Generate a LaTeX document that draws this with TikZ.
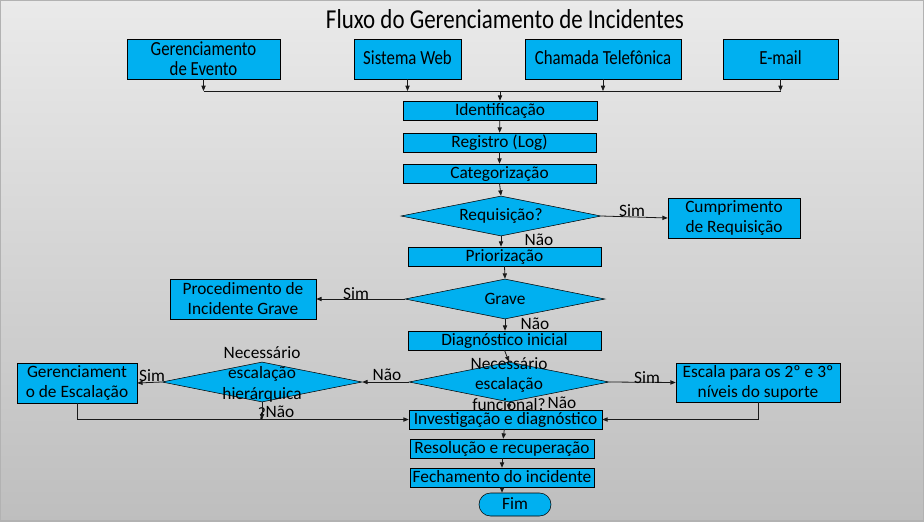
\documentclass[tikz,border=0pt]{standalone}
\usepackage{fontspec}
\setmainfont{Carlito}
\newfontfamily\estreita[FakeStretch=0.84]{Carlito}
\usepackage{xcolor}
\usetikzlibrary{arrows.meta,shapes.geometric}
\definecolor{azul}{HTML}{00B0F0}
\definecolor{fundoA}{HTML}{EAEAEA}
\definecolor{fundoB}{HTML}{BEBEBE}
\tikzset{
  caixa/.style={draw=black,fill=azul,inner sep=0pt,align=center,minimum height=14.25pt,font=\fontsize{13}{15}\selectfont},
  linhaunica/.style={caixa,text height=10pt,text depth=2pt},
  topo/.style={caixa,minimum height=30pt,font=\estreita\fontsize{15}{15}\selectfont},
  decisao/.style={diamond,draw=black,fill=azul,inner sep=0pt,minimum width=150pt,minimum height=30pt},
  texto/.style={align=center,inner sep=0pt,font=\fontsize{13}{15.3}\selectfont},
  rotulo/.style={inner sep=0pt,font=\fontsize{13}{14}\selectfont},
  seta/.style={-{Triangle[length=4pt,width=3.2pt]},draw=black!90,line width=0.6pt},
  linha/.style={draw=black!90,line width=0.6pt}
}
\begin{document}
\begin{tikzpicture}[x=0.75pt,y=-0.75pt]
  \useasboundingbox (0,0) rectangle (924,521);
  \shade[top color=fundoA,bottom color=fundoB,draw=black!30,line width=0.8pt] (0,0) rectangle (924,521);
  \node[font=\estreita\fontsize{20.5}{24}\selectfont] (titulo) at (505,19) {Fluxo do Gerenciamento de Incidentes};
  % entradas
  \node[topo,minimum width=114.75pt] (ge) at (203.5,59) {Gerenciamento\\de Evento};
  \node[topo,minimum width=80.25pt,text height=10.5pt,text depth=2.5pt] (sw) at (407.5,59) {Sistema Web};
  \node[topo,minimum width=117pt,text height=10.5pt,text depth=2.5pt] (ct) at (603,59) {Chamada Telefônica};
  \node[topo,minimum width=86.25pt,text height=10.5pt,text depth=2.5pt] (em) at (780.5,59) {E-mail};
  % fluxo principal
  \node[linhaunica,minimum width=145.5pt] (ident) at (500,110.5) {Identificação};
  \node[linhaunica,minimum width=144.75pt] (reg) at (499.5,142.5) {Registro (Log)};
  \node[linhaunica,minimum width=144.75pt] (cat) at (499.5,173.5) {Categorização};
  \node[decisao] (req) at (501,216) {};
  \node[texto] (reqt) at (req) {Requisição?};
  \node[caixa,minimum width=99pt,minimum height=30pt] (cump) at (734,218) {Cumprimento\\de Requisição};
  \node[linhaunica,minimum width=144.75pt] (prio) at (504.5,256.5) {Priorização};
  \node[decisao] (grave) at (505,299) {};
  \node[texto] (gravet) at (grave) {Grave};
  \node[caixa,minimum width=109.5pt,minimum height=30pt] (proc) at (243,299) {Procedimento de\\Incidente Grave};
  \node[linhaunica,minimum width=144.75pt] (diag) at (504.5,340.5) {Diagnóstico inicial};
  \node[decisao] (func) at (509,382) {};
  \node[texto] (funct) at (509,384) {Necessário\\escalação\\funcional?};
  \node[caixa,minimum width=123pt,minimum height=29.25pt] (esc) at (758,382.5) {Escala para os 2º e 3º\\níveis do suporte};
  \node[decisao] (hier) at (262,382) {};
  \node[texto] (hiert) at (262,383) {Necessário\\escalação\\hierárquica\\?};
  \node[caixa,minimum width=90pt,minimum height=30pt] (gesc) at (77,383) {Gerenciament\\o de Escalação};
  \node[linhaunica,minimum width=144.75pt] (inv) at (505.5,419.5) {Investigação e diagnóstico};
  \node[linhaunica,minimum width=138pt] (resol) at (502,448.5) {Resolução e recuperação};
  \node[linhaunica,minimum width=138pt] (fech) at (502,477.5) {Fechamento do incidente};
  \node[linhaunica,minimum width=54pt,minimum height=17.25pt,rounded corners=8.6pt] (fim) at (515,504.5) {Fim};
  % ligacoes das entradas
  \coordinate (barra) at (500,91);
  \foreach \e in {ge,sw,ct,em}
    \draw[seta] (\e.south) -- (\e.south |- barra);
  \draw[linha] (ge.south |- barra) -- (em.south |- barra);
  \draw[seta] (barra) -- (ident.north);
  \draw[seta] (ident) -- (reg);
  \draw[seta] (reg) -- (cat);
  \draw[seta] (cat.south) -- (req.north);
  \draw[seta] (req.east) -- (cump.west);
  \draw[seta] (req.south) -- (prio.north -| req.south);
  \draw[seta] (prio.south) -- (grave.north);
  \draw[seta] (grave.west) -- (proc.east);
  \draw[seta] (grave.south) -- (diag.north -| grave.south);
  \draw[seta] (diag.south) -- (func.north);
  \draw[seta] (func.east) -- (esc.west);
  \draw[seta] (func.west) -- (hier.east);
  \draw[seta] (func.south) -- (inv.north -| func.south);
  \draw[seta] (hier.west) -- (gesc.east);
  % retorno para investigacao
  \coordinate (ret) at (262,419.5);
  \draw[seta] (hier.south) -- (ret);
  \draw[seta] (gesc.south) |- (inv.west);
  \draw[seta] (esc.south) |- (inv.east);
  \draw[seta] (inv) -- (resol);
  \draw[seta] (resol) -- (fech);
  \draw[seta] (fech.south) -- (fim.north -| fech.south);
  % rotulos
  \node[rotulo] (s1) at (632,211) {Sim};
  \node[rotulo] (n1) at (539,240) {Não};
  \node[rotulo] (s2) at (356,294) {Sim};
  \node[rotulo] (n2) at (535,324) {Não};
  \node[rotulo] (s3) at (647,378) {Sim};
  \node[rotulo] (n3) at (387,375) {Não};
  \node[rotulo] (n4) at (562,403) {Não};
  \node[rotulo] (s4) at (152,376) {Sim};
  \node[rotulo] (n5) at (280,412) {Não};
\end{tikzpicture}
\end{document}
